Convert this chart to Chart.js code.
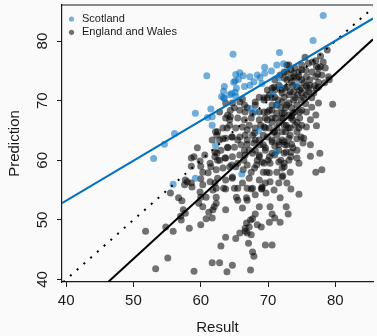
<!DOCTYPE html>
<html>
<head>
<meta charset="utf-8">
<script src="https://cdn.jsdelivr.net/npm/chart.js@4.4.1/dist/chart.umd.min.js"></script>
<style>
  html, body { margin: 0; padding: 0; background: #fafafa; overflow: hidden; }
  #wrap { width: 377px; height: 336px; position: relative; }
</style>
</head>
<body>
<div id="wrap"><canvas id="chart"></canvas></div>
<script>
// ---- data ----
const seriesNames = ['Scotland', 'England and Wales'];

const scotResult = [53.0, 54.6, 56.1, 55.9, 59.2, 59.2, 60.9, 61.5, 61.0, 61.7, 61.7, 62.2, 64.8, 71.7, 78.2, 76.7,
  69.5, 71.3, 72.3, 70.5, 65.2, 65.8, 66.3, 67.3, 68.4, 69.5, 68.8, 65.1, 65.6, 64.9, 67.9, 67.3, 66.5, 69.1,
  63.5, 63.4, 65.3, 64.6, 65.1, 64.3, 63.4, 65.2, 71.8, 71.6, 70.7, 74.3, 67.4, 68.1, 71.3, 68.6, 71.2, 66.1, 63.1, 63.5];
const scotPrediction = [60.3, 62.7, 64.5, 56.0, 57.0, 67.9, 74.2, 68.6, 67.2, 67.3, 65.9, 62.5, 77.8, 78.1, 84.3, 80.1,
  75.6, 76.0, 76.2, 75.0, 74.4, 74.7, 74.2, 74.0, 74.3, 74.6, 73.9, 73.3, 73.6, 73.1, 73.2, 72.6, 72.4, 72.9,
  72.4, 71.6, 72.1, 71.2, 71.4, 71.0, 70.5, 70.7, 72.4, 73.8, 71.0, 72.7, 68.7, 68.2, 69.3, 64.9, 61.4, 57.7, 70.7, 70.4];

const ewResult = [
  // left / lower edge
  51.8, 54.8, 55.9, 55.1, 53.3, 55.5, 56.7, 57.2, 57.4, 57.1, 57.7, 57.6, 58.3, 57.0, 57.7, 58.0, 58.6, 58.7,
  59.0, 58.6, 60.0, 61.4, 61.5, 60.3, 61.1, 60.0, 61.4, 60.3, 59.9, 60.0, 60.8, 59.7, 60.3, 61.2, 61.8, 60.8,
  61.7, 60.0, 62.3, 61.8, 62.1, 62.1, 59.0,
  // lower middle
  77.1, 78.0, 74.6, 73.4, 71.8, 72.7, 73.0, 71.8, 70.3, 70.6, 71.0, 70.2, 69.0, 68.4, 68.7, 68.1, 67.7, 67.2,
  66.9, 66.6, 67.5, 65.8, 65.2, 67.1, 69.6, 70.6, 63.7, 63.0, 67.7, 67.9, 61.7, 62.8, 64.7, 63.9, 67.4, 63.7,
  66.2, 66.8, 68.1, 69.0, 69.7, 70.9, 69.6, 65.3, 62.0, 62.3, 63.4, 64.7, 67.5, 69.3, 70.2, 72.2, 72.1, 67.4,
  66.8, 66.6, 62.3, 63.7, 65.0, 66.9, 67.5, 69.1, 65.5, 66.9,
  // upper right and middle
  75.5, 77.1, 77.8, 78.8, 77.8, 78.5, 77.5, 72.8, 74.6, 75.6, 76.5, 77.1, 79.1, 77.5, 76.8, 76.0, 75.0, 73.8,
  73.4, 72.4, 77.5, 79.6, 75.7, 75.7, 77.2, 76.3, 77.7, 74.9, 73.5, 72.4, 74.9, 70.9, 69.9, 68.1, 66.2, 66.5,
  65.0, 64.0, 64.3, 63.9, 62.5, 62.4, 61.7, 63.3, 64.0, 64.6, 59.5, 60.6, 58.6, 59.9, 62.4, 62.5, 63.6, 64.6,
  65.5, 66.9, 68.3, 69.4, 70.2, 68.7, 72.4, 73.4, 74.6, 76.5, 75.3, 74.3, 73.5, 76.3, 74.3, 78.2, 77.2, 76.0,
  75.0, 77.4, 75.7, 74.6, 73.8, 78.0, 79.0, 75.3, 74.3, 76.2, 77.5, 78.4, 73.8, 75.0, 76.0, 77.2, 74.0, 75.3,
  // dense core
  69.4, 69.9, 71.0, 72.1, 72.8, 70.6, 68.1, 66.9, 65.8, 64.7, 73.1, 72.4, 71.3, 70.2, 69.4, 67.7, 66.6, 65.8,
  64.4, 63.7, 64.4, 65.5, 66.5, 67.5, 68.7, 69.6, 70.6, 71.6, 72.7, 73.3, 63.3, 62.2, 64.3, 65.2, 66.2, 67.2,
  68.1, 69.4, 70.2, 71.0, 72.1, 73.1, 62.8, 63.7, 64.7, 65.8, 66.6, 67.7, 69.9, 70.6, 71.6, 72.5, 73.4, 62.1,
  63.0, 64.0, 65.0, 66.0, 66.9, 67.9, 68.8, 69.6, 70.6, 72.4, 73.1, 62.8, 63.7, 64.7, 65.8, 66.6, 67.7, 68.7,
  69.1, 70.3, 71.6, 72.4, 73.3, 62.3, 63.3, 64.3, 65.2, 66.3, 68.0, 69.8, 71.3, 72.1, 62.5, 63.7, 64.7, 67.2,
  68.7, 70.3, 71.6, 72.8, 69.1, 67.7, 66.2, 65.5,
  73.1, 72.8, 72.4, 71.6, 71.0, 72.1, 72.8, 73.3, 70.2, 69.4, 70.6, 68.7,
  73.8, 74.3, 75.0, 74.0, 73.1, 74.7, 74.0, 75.0, 74.3, 73.3, 72.1, 73.7, 71.6, 71.0, 70.6, 72.0, 72.6, 73.7,
  72.8, 71.8, 71.0, 71.9, 74.7, 75.7, 76.5, 77.1, 76.3, 75.2, 74.3, 72.7,
  71.5, 72.4, 73.5, 71.9, 71.1, 73.7, 72.6, 71.3, 69.9, 68.7, 69.3, 68.1, 66.9, 65.5, 70.6, 74.4, 74.6, 63.7, 62.8,
  74.3, 73.5, 75.0, 73.1, 72.2, 71.3, 70.6, 69.6, 68.7, 73.7, 75.6, 74.7, 73.0, 72.4, 71.6, 71.0, 70.0, 68.1,
  67.2, 66.4, 75.0, 76.2, 76.9, 74.0, 72.5, 71.3, 69.9, 68.9, 68.0, 71.9, 73.4, 74.3, 72.8, 70.8, 69.3, 68.4,
  66.9, 66.5, 75.7, 76.6, 72.1, 73.3, 70.6, 69.6
];
const ewPrediction = [
  48.1, 48.8, 48.1, 43.6, 41.8, 54.5, 53.7, 53.2, 51.7, 50.0, 56.7, 55.9, 48.6, 50.6, 51.1, 56.4, 56.2, 55.5,
  60.6, 59.0, 59.0, 59.5, 58.9, 58.0, 57.9, 56.9, 56.4, 55.9, 54.7, 53.8, 53.8, 52.8, 52.2, 51.3, 51.7, 50.2,
  50.3, 49.2, 52.8, 55.0, 56.2, 60.6, 41.4,
  58.0, 58.4, 54.3, 55.2, 53.7, 52.2, 51.0, 49.6, 52.2, 51.0, 50.3, 49.6, 48.8, 49.2, 52.2, 51.0, 50.2, 48.8,
  47.8, 48.6, 47.5, 47.8, 46.9, 46.1, 45.8, 45.8, 47.1, 45.6, 44.6, 43.9, 42.8, 42.8, 42.4, 41.3, 41.6, 51.7,
  52.0, 53.7, 54.2, 55.2, 54.5, 55.0, 56.2, 53.8, 52.2, 53.8, 55.3, 57.2, 58.0, 58.0, 57.9, 57.4, 58.7, 50.0,
  49.5, 48.1, 55.3, 55.2, 55.3, 55.3, 55.2, 55.3, 53.3, 53.3,
  77.3, 76.7, 77.5, 78.5, 75.7, 75.5, 75.5, 76.0, 74.8, 75.1, 74.8, 74.0, 73.5, 72.3, 71.3, 72.1, 73.5, 74.0,
  75.2, 74.8, 69.6, 69.4, 68.1, 65.6, 65.8, 62.6, 61.2, 63.9, 67.4, 65.9, 70.1, 72.3, 71.8, 69.8, 70.3, 69.3,
  68.8, 67.6, 66.8, 65.4, 64.8, 64.2, 63.4, 63.6, 62.2, 63.9, 62.1, 60.9, 60.4, 59.9, 61.2, 60.0, 60.4, 59.2,
  59.5, 59.2, 59.2, 59.5, 60.6, 60.6, 59.5, 60.6, 59.5, 68.9, 63.7, 63.6, 62.7, 60.7, 60.4, 76.5, 75.7, 76.3,
  75.2, 74.5, 74.0, 74.0, 74.6, 74.3, 74.0, 73.0, 72.3, 72.6, 73.1, 73.0, 71.5, 71.3, 71.5, 72.1, 70.5, 70.5,
  70.1, 70.5, 70.6, 69.8, 69.3, 69.3, 69.3, 68.8, 69.8, 69.6, 67.6, 67.9, 67.9, 68.4, 68.1, 67.9, 68.1, 68.4,
  68.4, 67.1, 67.3, 67.1, 66.8, 67.1, 66.8, 67.1, 66.4, 66.3, 65.9, 65.4, 65.4, 64.8, 65.9, 65.4, 65.6, 65.9,
  65.4, 65.6, 65.4, 64.8, 64.8, 63.7, 63.4, 63.7, 63.9, 63.9, 64.2, 64.2, 63.9, 63.4, 63.1, 62.6, 61.4, 61.4,
  61.7, 62.1, 62.2, 62.6, 62.7, 62.9, 62.6, 62.1, 61.2, 61.2, 60.0, 60.0, 60.4, 60.6, 60.9, 60.9, 61.2, 60.9,
  59.7, 59.5, 59.7, 58.9, 58.0, 58.4, 58.7, 58.9, 58.9, 58.4, 58.7, 58.0, 58.0, 57.2, 57.0, 56.7, 57.0, 57.0,
  56.7, 56.4, 56.2, 56.2, 55.5, 55.3, 56.2, 55.3,
  76.0, 74.8, 73.8, 72.6, 71.8, 71.3, 72.3, 71.5, 71.0, 70.5, 70.5, 70.6,
  70.1, 69.3, 68.4, 68.1, 71.0, 67.1, 65.9, 65.9, 64.8, 64.2, 63.4, 62.1, 61.7, 62.4, 68.4, 67.1, 68.8, 72.6,
  73.5, 74.3, 73.5, 71.8, 71.8, 71.0, 70.5, 67.6, 66.8, 62.9, 61.7, 61.4,
  70.1, 70.6, 68.8, 68.8, 67.1, 66.8, 64.8, 65.4, 66.8, 68.1, 64.2, 61.7, 65.1, 63.4, 72.1, 71.0, 65.4, 69.6, 68.1,
  73.8, 73.1, 72.1, 69.6, 67.1, 64.2, 63.1, 61.7, 63.4, 67.9, 69.5, 68.1, 65.4, 63.1, 62.6, 60.9, 60.0, 63.4,
  61.7, 60.0, 76.0, 73.5, 72.5, 75.5, 72.1, 69.3, 68.1, 65.9, 64.6, 60.0, 67.1, 66.4, 62.6, 64.7, 62.6, 60.0,
  63.4, 61.7, 72.5, 76.5, 67.9, 73.8, 67.1, 65.4
];

// fitted lines and the y = x reference
const scotFitResult = [39.38, 85.6];
const scotFitPrediction = [52.8, 83.8];
const ewFitResult = [46.24, 85.6];
const ewFitPrediction = [39.58, 80.3];
const equalLine = [39.58, 86.1];

// axes
const xLimits = [39.38, 85.6];
const yLimits = [39.58, 86.06];
const xTickValues = [40, 50, 60, 70, 80];
const yTickValues = [40, 50, 60, 70, 80];

// ---- colours ----
const scotBlue = '#0070c0';
const scotPoint = 'rgba(0, 112, 192, 0.55)';
const ewPoint = 'rgba(0, 0, 0, 0.55)';
const ink = '#1a1a1a';

const toXY = (xs, ys) => xs.map((x, i) => ({ x: x, y: ys[i] }));

Chart.defaults.font.family = '"Liberation Sans", Arial, Helvetica, sans-serif';
Chart.defaults.color = ink;

// R-like bits Chart.js has no option for: rotated y labels, top box line, inset legend
const rStylePlugin = {
    id: 'rStyle',
    afterDraw(chart) {
        const ctx = chart.ctx;
        const area = chart.chartArea;
        const ys = chart.scales.y;
        ctx.save();

        ctx.strokeStyle = ink;
        ctx.lineWidth = 1.2;
        ctx.beginPath();
        ctx.moveTo(area.left, area.top);
        ctx.lineTo(area.right, area.top);
        ctx.stroke();

        ctx.fillStyle = ink;
        ctx.font = '15px "Liberation Sans", Arial, sans-serif';
        ctx.textAlign = 'center';
        ctx.textBaseline = 'alphabetic';
        ys.ticks.forEach(t => {
            const py = ys.getPixelForValue(t.value);
            ctx.save();
            ctx.translate(46.5, py);
            ctx.rotate(-Math.PI / 2);
            ctx.fillText(String(t.value), 0, 0);
            ctx.restore();
        });

        // legend
        ctx.font = '11px "Liberation Sans", Arial, sans-serif';
        ctx.textAlign = 'left';
        ctx.textBaseline = 'middle';
        const items = chart.data.datasets.filter(d => d.inLegend);
        items.forEach((d, i) => {
            const cy = area.top + 14 + i * 13.3;
            ctx.beginPath();
            ctx.arc(area.left + 9.5, cy, 2.6, 0, Math.PI * 2);
            ctx.fillStyle = d.backgroundColor;
            ctx.fill();
            ctx.fillStyle = ink;
            ctx.fillText(d.label, area.left + 20, cy);
        });
        ctx.restore();
    }
};

const ctx = document.getElementById('chart').getContext('2d');
const chart = new Chart(ctx, {
    type: 'scatter',
    data: {
        datasets: [
            { label: 'Scotland fit', data: toXY(scotFitResult, scotFitPrediction), showLine: true,
              borderColor: scotBlue, borderWidth: 2, pointRadius: 0 },
            { label: 'England and Wales fit', data: toXY(ewFitResult, ewFitPrediction), showLine: true,
              borderColor: '#000', borderWidth: 2, pointRadius: 0 },
            { label: 'y = x', data: toXY(equalLine, equalLine), showLine: true,
              borderColor: '#000', borderWidth: 2, borderDash: [2, 7], borderCapStyle: 'butt', pointRadius: 0 },
            { label: seriesNames[0], data: toXY(scotResult, scotPrediction), inLegend: true,
              backgroundColor: scotPoint, borderWidth: 0, pointRadius: 3.5 },
            { label: seriesNames[1], data: toXY(ewResult, ewPrediction), inLegend: true,
              backgroundColor: ewPoint, borderWidth: 0, pointRadius: 3.5 }
        ]
    },
    options: {
        responsive: true,
        maintainAspectRatio: false,
        animation: false,
        layout: { padding: { top: 5, right: 0, bottom: 0, left: 0 } },
        plugins: { legend: { display: false }, tooltip: { enabled: false } },
        scales: {
            x: {
                type: 'linear',
                min: xLimits[0], max: xLimits[1],
                afterFit: s => { s.height = 54; },
                afterBuildTicks: s => { s.ticks = xTickValues.map(v => ({ value: v })); },
                border: { display: true, color: ink, width: 1.2 },
                grid: { drawOnChartArea: false, drawTicks: true, tickLength: 5, color: ink },
                ticks: { font: { size: 15 }, padding: 5, maxRotation: 0, autoSkip: false },
                title: { display: true, text: 'Result', font: { size: 15, lineHeight: 1 }, padding: { top: 0, bottom: 0.5 } }
            },
            y: {
                type: 'linear',
                min: yLimits[0], max: yLimits[1],
                afterFit: s => { s.width = 62; },
                afterBuildTicks: s => { s.ticks = yTickValues.map(v => ({ value: v })); },
                border: { display: true, color: ink, width: 1.2 },
                grid: { drawOnChartArea: false, drawTicks: true, tickLength: 5, color: ink },
                ticks: { display: false },
                title: { display: true, text: 'Prediction', font: { size: 15, lineHeight: 1.2 }, padding: { top: 6 } }
            }
        }
    },
    plugins: [rStylePlugin]
});
</script>
</body>
</html>
